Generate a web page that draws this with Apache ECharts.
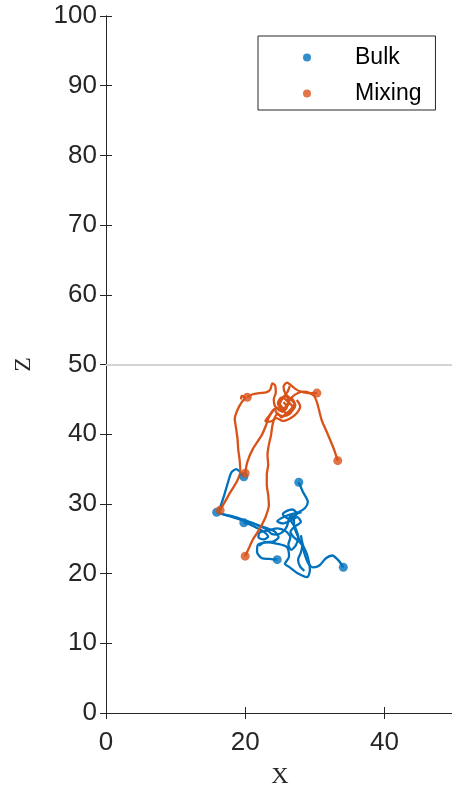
<!DOCTYPE html>
<html><head><meta charset="utf-8">
<script src="https://cdn.jsdelivr.net/npm/echarts/dist/echarts.min.js"></script>
<style>html,body{margin:0;padding:0;background:#fff}#c{width:452px;height:792px}</style>
</head><body><div id="c"></div>
<script>
const xTickValues = [0, 20, 40];
const zTickValues = [0, 10, 20, 30, 40, 50, 60, 70, 80, 90, 100];
const seriesNames = ['Bulk', 'Mixing'];
const referenceZ = 50;

const bulkTrack1 = [[27.7,33.1],[28.3,31.7],[29.0,30.3],[28.6,29.4],[27.6,28.8],[26.2,28.4],[25.3,28.0],[24.6,27.5],[25.4,27.2],[26.5,27.6],[27.5,28.1],[28.0,27.4],[27.2,26.8],[26.5,26.0],[26.9,25.3],[27.6,24.7],[28.2,24.0],[28.0,23.0],[27.6,22.0],[27.9,21.0],[28.5,20.4]];
const bulkTrack2 = [[34.1,20.9],[33.4,21.9],[32.5,22.6],[31.6,22.2],[30.7,21.2],[29.8,20.9],[29.1,21.4],[28.6,22.6],[28.2,24.0],[27.6,25.3],[27.1,26.5],[27.0,27.8],[27.4,28.6],[26.8,29.2],[26.0,29.0],[25.4,28.5],[26.2,27.9],[27.0,28.3]];
const bulkTrack3 = [[24.6,22.0],[23.5,22.1],[22.4,22.2],[21.7,23.1],[21.8,24.1],[23.1,24.5],[24.5,24.3],[26.0,23.8],[26.3,22.4],[25.7,21.4],[26.4,20.9],[27.6,20.0],[28.9,19.5],[29.3,20.5],[28.9,22.7],[28.3,24.1],[28.0,25.5]];
const bulkTrack4 = [[19.8,33.9],[18.7,35.0],[18.0,34.5],[17.5,33.0],[17.0,31.3],[16.5,29.8],[16.1,28.8],[16.9,28.5],[18.2,28.2],[19.5,27.8],[20.8,27.3],[22.0,26.9],[23.2,26.5],[24.3,26.0],[24.8,25.2],[24.0,24.6],[22.8,24.5],[22.0,24.0]];
const bulkTrack5 = [[15.9,28.8],[17.2,28.4],[18.5,28.0],[19.8,27.6],[21.0,27.3],[22.1,26.8],[23.0,26.4],[23.8,25.7],[24.5,25.6],[25.4,26.0],[26.0,26.8],[26.3,27.9],[26.8,28.6]];
const bulkTrack6 = [[19.8,27.3],[20.8,27.0],[21.8,26.5],[22.7,26.0],[23.3,25.3],[22.6,24.9],[21.9,25.2],[22.1,25.9],[23.4,26.2],[24.6,26.5],[25.8,26.1],[26.5,25.2],[26.2,24.2],[26.6,23.4],[27.3,24.1],[27.6,25.3],[27.2,26.6],[26.6,27.6],[27.3,28.5],[28.1,28.8]];

const mixingTrack1 = [[33.3,36.2],[32.8,37.7],[32.2,39.2],[31.6,40.6],[31.0,42.0],[30.6,43.5],[30.3,44.6],[29.9,45.5],[29.3,45.9],[28.4,46.1],[27.6,45.9],[26.7,45.3],[26.1,44.4],[25.6,43.7],[25.0,44.3],[25.4,45.2],[26.1,46.1],[26.4,46.9]];
const mixingTrack2 = [[30.3,45.9],[29.1,45.9],[28.0,46.1],[27.2,46.5],[26.6,47.0],[26.0,47.4],[25.5,46.8],[25.8,45.8],[26.6,45.0],[27.2,44.2],[26.8,43.4],[26.0,43.0],[25.3,43.6],[24.8,44.5],[25.4,45.2],[26.2,44.6],[26.9,43.8],[26.4,42.9],[25.5,42.6],[24.6,42.9],[24.2,43.6],[23.4,42.6],[22.9,41.9],[23.6,41.8],[24.5,42.3],[25.4,41.9],[26.5,42.3],[27.4,43.0],[27.9,44.0],[27.4,44.9]];
const mixingTrack3 = [[20.3,45.3],[21.0,45.7],[22.0,45.9],[23.0,46.0],[23.6,46.4],[23.9,47.3],[24.3,47.0],[24.4,46.0],[24.1,45.0],[24.3,44.0],[25.0,43.4],[25.8,43.8],[26.3,44.6],[25.9,45.4],[25.1,45.2],[24.7,44.4],[25.2,43.6]];
const mixingTrack4 = [[20.0,34.4],[20.3,36.0],[21.1,37.9],[22.4,39.9],[23.0,41.3],[23.3,42.2],[23.9,43.2],[24.6,43.8],[25.3,43.2],[26.0,43.9],[25.5,44.6]];
const mixingTrack5 = [[16.4,29.1],[17.2,30.5],[18.0,31.9],[18.8,33.2],[19.3,34.6],[19.2,36.3],[19.0,37.8],[18.9,39.3],[18.7,40.8],[18.5,42.2],[18.9,43.5],[19.5,44.6],[20.0,45.2],[19.5,45.5],[19.4,45.0]];
const mixingTrack6 = [[20.0,22.5],[20.6,23.8],[21.1,24.9],[21.7,25.8],[22.4,27.0],[23.0,28.3],[23.4,29.8],[23.3,31.3],[23.1,32.8],[23.1,34.2],[23.3,35.6],[23.2,37.0],[23.4,38.5],[23.7,39.8],[23.9,41.2],[24.2,42.3],[24.7,43.0],[25.2,42.4],[25.8,42.9],[26.5,43.5],[27.1,44.4],[26.6,45.2],[25.9,44.8]];

const bulkTracks = [bulkTrack1, bulkTrack2, bulkTrack3, bulkTrack4, bulkTrack5, bulkTrack6];
const mixingTracks = [mixingTrack1, mixingTrack2, mixingTrack3, mixingTrack4, mixingTrack5, mixingTrack6];

const BLUE = '#0072BD', ORANGE = '#D95319', AX = '#262626';
const sans = '"Liberation Sans", Arial, Helvetica, sans-serif';
const serif = '"Liberation Serif", "Times New Roman", serif';

function lineSeries(tracks, color, prefix) {
  return tracks.map((t, i) => ({
    type: 'line', name: prefix + i, data: t, symbol: 'none', smooth: 0.25,
    lineStyle: { color: color, width: 2.3 }, silent: true, z: 3
  }));
}

const series = [];
series.push({
  type: 'line', name: 'ref', data: [], silent: true,
  markLine: { silent: true, symbol: 'none', label: { show: false },
    lineStyle: { color: '#d4d4d4', width: 2, type: 'solid' },
    data: [{ yAxis: referenceZ }] }
});
series.push(...lineSeries(bulkTracks, BLUE, 'bulk-'));
series.push({ type: 'scatter', name: seriesNames[0], data: bulkTracks.map(t => t[0]), symbolSize: 9, itemStyle: { color: BLUE }, z: 4 });
series.push(...lineSeries(mixingTracks, ORANGE, 'mix-'));
series.push({ type: 'scatter', name: seriesNames[1], data: mixingTracks.map(t => t[0]), symbolSize: 9, itemStyle: { color: ORANGE }, z: 5 });

const axisCommon = {
  axisLine: { show: true, lineStyle: { color: AX, width: 1 } },
  axisTick: { show: true, inside: true, length: 6, lineStyle: { color: AX } },
  splitLine: { show: false }
};

const chart = echarts.init(document.getElementById('c'), null, { renderer: 'canvas' });
chart.setOption({
  animation: false,
  backgroundColor: '#fff',
  grid: { left: 106, top: 16, width: 348, height: 697, containLabel: false, outerBoundsMode: 'none' },
  legend: {
    data: seriesNames.map(n => ({ name: n, icon: 'circle' })),
    orient: 'vertical', left: 258, top: 36,
    itemWidth: 8, itemHeight: 8, itemGap: 13,
    padding: [10, 14, 5, 45],
    borderColor: AX, borderWidth: 1, backgroundColor: '#fff',
    selectedMode: false,
    textStyle: { fontSize: 23, color: '#000', fontFamily: sans, lineHeight: 22, padding: [0, 0, 0, 39] }
  },
  xAxis: [
    Object.assign({ type: 'value', min: 0, max: 50, interval: 20, position: 'bottom',
      name: 'X', nameLocation: 'middle', nameGap: 52,
      nameTextStyle: { fontFamily: serif, fontSize: 24, color: AX },
      axisLabel: { fontSize: 26, color: AX, fontFamily: sans, margin: 17,
        formatter: v => (xTickValues.includes(v) ? String(v) : '') } }, axisCommon),
    Object.assign({ type: 'value', min: 0, max: 50, interval: 20, position: 'top',
      axisLabel: { show: false } }, axisCommon)
  ],
  yAxis: [
    Object.assign({ type: 'value', min: 0, max: 100, interval: 10, position: 'left',
      name: 'Z', nameLocation: 'middle', nameGap: 70,
      nameTextStyle: { fontFamily: serif, fontSize: 24, color: AX },
      axisLabel: { fontSize: 26, color: AX, fontFamily: sans, margin: 9,
        formatter: v => (zTickValues.includes(v) ? String(v) : '') } }, axisCommon),
    Object.assign({ type: 'value', min: 0, max: 100, interval: 10, position: 'right',
      axisLabel: { show: false } }, axisCommon)
  ],
  series: series
});
</script>
</body></html>
